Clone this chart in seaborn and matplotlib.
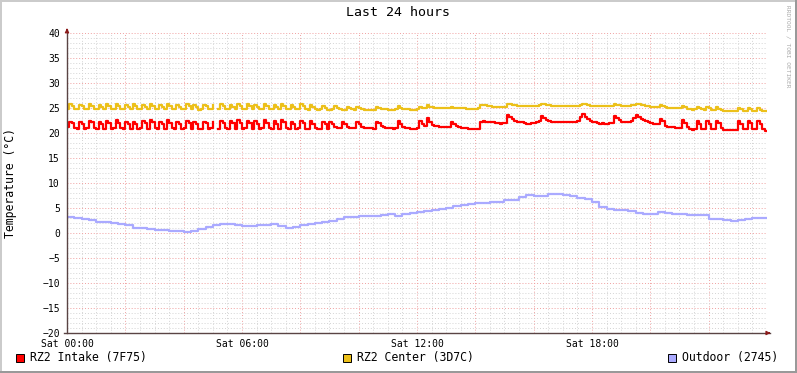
import numpy as np
import pandas as pd
import matplotlib
matplotlib.use("Agg")
import matplotlib.pyplot as plt
from matplotlib.patches import Rectangle
import seaborn as sns

# 5-minute samples, Sat 00:00 .. Sun 00:00 (289 values)
intake = [
    21.2, 22.3, 22.0, 21.0, 20.9, 22.2, 21.9, 20.9, 21.0, 22.4, 22.2, 21.0,
    20.8, 22.3, 21.9, 20.9, 22.5, 22.0, 20.9, 21.0, 22.6, 22.1, 21.0, 20.8,
    22.2, 21.8, 20.9, 22.3, 21.9, 20.8, 21.0, 22.4, 22.0, 20.9, 22.6, 22.2,
    21.0, 20.8, 22.3, 21.9, 20.9, 22.7, 22.1, 21.0, 20.9, 22.3, 21.8, 20.8,
    21.0, 22.4, 22.0, 20.9, 22.3, 21.9, 20.8, 20.9, 22.3, 22.0, 20.9, 21.0,
    22.2, np.nan, 20.8, 22.5, 22.1, 21.0, 20.9, 22.4, 22.0, 20.9, 22.6, 22.1,
    20.9, 21.0, 22.5, 22.0, 20.9, 22.4, 21.9, 20.8, 21.0, 22.6, 22.1, 21.0,
    20.8, 22.4, 21.9, 20.9, 22.7, 22.2, 21.0, 20.9, 22.3, 21.9, 20.8, 21.0,
    22.5, 22.0, 20.9, 20.8, 22.4, 21.9, 21.0, 20.8, 20.9, 22.3, 21.8, 20.8,
    22.3, 21.9, 21.2, 21.0, 21.0, 22.3, 21.9, 21.2, 21.0, 21.0, 21.0, 22.2,
    21.8, 21.3, 21.1, 21.0, 21.0, 21.0, 20.9, 22.3, 22.1, 21.5, 21.2, 21.1,
    21.0, 21.0, 20.9, 21.0, 22.5, 21.8, 21.3, 21.1, 21.0, 20.9, 20.9, 20.8,
    21.0, 22.5, 21.9, 21.4, 23.0, 22.3, 21.7, 21.5, 21.4, 21.3, 21.3, 21.2,
    21.2, 21.3, 22.3, 21.9, 21.5, 21.2, 21.1, 21.0, 21.0, 20.9, 20.8, 20.8,
    20.8, 20.9, 22.3, 22.4, 22.2, 22.2, 22.3, 22.2, 22.1, 22.0, 21.9, 22.0,
    22.0, 23.7, 23.3, 22.8, 22.5, 22.3, 22.3, 22.2, 22.1, 21.9, 21.9, 22.0,
    22.1, 22.2, 22.5, 23.4, 23.0, 22.6, 22.4, 22.3, 22.3, 22.3, 22.2, 22.3,
    22.3, 22.2, 22.3, 22.2, 22.3, 22.2, 22.4, 23.2, 23.9, 23.3, 22.9, 22.5,
    22.3, 22.2, 22.0, 21.9, 22.0, 21.9, 21.9, 22.0, 22.1, 23.5, 23.0, 22.6,
    22.3, 22.2, 22.3, 22.2, 22.4, 23.0, 23.7, 23.3, 22.9, 22.6, 22.4, 22.2,
    22.0, 21.9, 21.9, 21.9, 22.9, 22.4, 21.4, 21.3, 21.2, 21.2, 21.1, 21.1,
    21.1, 22.6, 22.1, 21.2, 20.8, 20.7, 20.9, 22.4, 21.8, 20.9, 20.8, 22.4,
    21.9, 20.9, 20.8, 22.5, 22.0, 21.0, 20.7, 20.6, 20.6, 20.6, 20.7, 20.6,
    22.4, 21.8, 20.9, 20.8, 22.5, 22.0, 20.9, 20.8, 22.4, 21.8, 20.8, 20.5,
    20.5,
]

center = [
    24.9, 25.8, 25.5, 24.9, 24.8, 25.7, 25.4, 24.8, 24.9, 25.8, 25.5, 24.9,
    24.8, 25.7, 25.3, 24.8, 25.9, 25.4, 24.9, 24.8, 25.8, 25.4, 24.9, 24.8,
    25.7, 25.3, 24.8, 25.8, 25.4, 24.8, 24.9, 25.7, 25.3, 24.8, 25.9, 25.5,
    24.9, 24.8, 25.7, 25.3, 24.8, 25.9, 25.4, 24.9, 24.8, 25.7, 25.3, 24.8,
    24.9, 25.8, 25.4, 24.8, 25.7, 25.3, 24.7, 24.8, 25.7, 25.4, 24.8, 24.9,
    25.6, np.nan, 24.8, 25.8, 25.4, 24.9, 24.8, 25.7, 25.3, 24.8, 25.9, 25.4,
    24.9, 24.8, 25.8, 25.4, 24.8, 25.7, 25.3, 24.8, 24.9, 25.8, 25.4, 24.9,
    24.8, 25.7, 25.3, 24.8, 25.9, 25.5, 24.9, 24.8, 25.7, 25.3, 24.8, 24.9,
    25.8, 25.4, 24.8, 24.7, 25.6, 25.2, 24.8, 24.7, 24.8, 25.5, 25.1, 24.7,
    24.7, 24.8, 25.4, 25.1, 24.8, 24.7, 24.7, 25.3, 25.0, 24.8, 24.7, 25.3,
    25.0, 24.8, 24.7, 24.7, 24.7, 24.7, 24.7, 25.3, 25.1, 24.9, 24.8, 24.8,
    24.7, 24.7, 24.7, 24.8, 25.4, 25.1, 24.9, 24.8, 24.8, 24.7, 24.7, 24.7,
    24.8, 25.3, 25.1, 25.0, 25.6, 25.3, 25.2, 25.1, 25.1, 25.1, 25.0, 25.0,
    25.0, 25.0, 25.3, 25.1, 25.0, 25.0, 25.0, 25.0, 24.9, 24.9, 24.9, 24.9,
    24.9, 25.0, 25.6, 25.7, 25.6, 25.5, 25.4, 25.3, 25.3, 25.3, 25.3, 25.3,
    25.3, 25.8, 25.8, 25.7, 25.6, 25.5, 25.5, 25.5, 25.5, 25.5, 25.4, 25.5,
    25.5, 25.5, 25.6, 25.9, 25.8, 25.7, 25.6, 25.5, 25.5, 25.5, 25.5, 25.5,
    25.5, 25.5, 25.5, 25.5, 25.5, 25.5, 25.5, 25.7, 25.9, 25.8, 25.6, 25.5,
    25.5, 25.4, 25.4, 25.4, 25.4, 25.4, 25.4, 25.4, 25.5, 25.8, 25.7, 25.6,
    25.5, 25.5, 25.5, 25.5, 25.6, 25.7, 25.9, 25.8, 25.7, 25.6, 25.5, 25.4,
    25.3, 25.3, 25.3, 25.3, 25.7, 25.5, 25.2, 25.1, 25.1, 25.1, 25.0, 25.0,
    25.0, 25.5, 25.2, 24.9, 24.8, 24.7, 24.8, 25.3, 25.0, 24.8, 24.7, 25.2,
    25.0, 24.7, 24.6, 25.2, 24.9, 24.6, 24.5, 24.5, 24.4, 24.4, 24.5, 24.5,
    25.1, 24.8, 24.5, 24.5, 25.1, 24.8, 24.5, 24.4, 25.0, 24.7, 24.5, 24.4,
    24.4,
]

# 15-minute samples for the outdoor sensor (97 values)
outdoor = [
    3.3, 3.1, 2.9, 2.6, 2.3, 2.2, 2.0, 1.8, 1.7, 1.1, 1.0, 0.8,
    0.6, 0.6, 0.5, 0.4, 0.3, 0.5, 0.9, 1.3, 1.6, 1.8, 1.8, 1.6,
    1.4, 1.5, 1.6, 1.7, 1.8, 1.4, 1.0, 1.3, 1.7, 1.8, 2.0, 2.2,
    2.4, 2.8, 3.3, 3.3, 3.4, 3.5, 3.5, 3.7, 3.9, 3.5, 3.8, 4.1,
    4.3, 4.4, 4.6, 4.8, 5.1, 5.4, 5.7, 5.9, 6.0, 6.1, 6.2, 6.3,
    6.6, 6.7, 7.2, 7.6, 7.5, 7.4, 7.9, 7.8, 7.7, 7.4, 7.1, 6.8,
    6.2, 5.3, 4.9, 4.7, 4.6, 4.4, 4.1, 3.8, 3.9, 4.3, 4.1, 3.9,
    3.8, 3.7, 3.7, 3.6, 2.9, 2.8, 2.6, 2.4, 2.6, 2.8, 3.1, 3.1,
    3.1,
]

series_names = ["RZ2 Intake (7F75)", "RZ2 Center (3D7C)", "Outdoor (2745)"]
series_colors = ["#ff0000", "#ecc01a", "#aaaaff"]
hour_ticks = [0, 6, 12, 18]
hour_labels = ["Sat 00:00", "Sat 06:00", "Sat 12:00", "Sat 18:00"]

hours_5min = np.arange(len(intake)) * 5 / 60
hours_15min = np.arange(len(outdoor)) * 15 / 60


def to_frame(hours, temps):
    df = pd.DataFrame({"hour": hours, "temp": temps})
    df["seg"] = df["temp"].isna().cumsum()
    return df.dropna()


plt.rcParams["font.family"] = ["DejaVu Sans Mono"]

W, H = 797, 373
fig = plt.figure(figsize=(W / 100, H / 100), dpi=100, facecolor="white")
ax = fig.add_axes([67 / W, 40 / H, 700 / W, 300 / H])
ax.set_facecolor("white")

for hours, temps, color in zip(
    [hours_5min, hours_5min, hours_15min], [intake, center, outdoor], series_colors
):
    sns.lineplot(
        data=to_frame(hours, temps), x="hour", y="temp", units="seg",
        estimator=None, drawstyle="steps-post", color=color, lw=1.6,
        legend=False, ax=ax,
    )

ax.set_xlim(0, 24)
ax.set_ylim(-20, 40)

major_x = np.arange(0, 25, 2)
ax.set_xticks(major_x)
ax.set_xticklabels([hour_labels[hour_ticks.index(h)] if h in hour_ticks else "" for h in major_x])
ax.set_xticks(np.arange(0, 24.01, 0.5), minor=True)
ax.set_yticks(np.arange(-20, 41, 5))
ax.set_yticks(np.arange(-20, 41, 1), minor=True)

ax.grid(which="minor", color="#d4d4d4", lw=0.7, linestyle=(0, (1, 2)))
ax.grid(which="major", color="#f0a0a0", lw=0.7, linestyle=(0, (1, 2)))
ax.set_axisbelow(True)

ax.tick_params(which="both", length=0, labelsize=7, colors="black")
ax.tick_params(axis="x", pad=4)
ax.tick_params(axis="y", pad=5)
ax.set_xlabel("")
ax.set_ylabel("")

for s in ax.spines.values():
    s.set_visible(False)

axis_col = "#5a4444"
arrow_col = "#8b1a1a"
ax.plot([0, 0], [0, 1.01], transform=ax.transAxes, color=axis_col, lw=1, clip_on=False)
ax.plot([-0.005, 1.005], [0, 0], transform=ax.transAxes, color=axis_col, lw=1, clip_on=False)
ax.annotate("", xy=(0, 1.025), xytext=(0, 1.0), xycoords="axes fraction",
            arrowprops=dict(arrowstyle="-|>", color=arrow_col, lw=0.8, mutation_scale=6),
            annotation_clip=False)
ax.annotate("", xy=(1.009, 0), xytext=(0.999, 0), xycoords="axes fraction",
            arrowprops=dict(arrowstyle="-|>", color=arrow_col, lw=0.8, mutation_scale=6),
            annotation_clip=False)

fig.text(398 / W, 1 - 13 / H, "Last 24 hours", ha="center", va="center", fontsize=9.5)
fig.text(11 / W, 1 - 183 / H, "Temperature (°C)", rotation=90, ha="center", va="center", fontsize=8.3)
fig.text(788 / W, 1 - 5 / H, "RRDTOOL / TOBI OETIKER", rotation=270, ha="center", va="top",
         fontsize=4.5, color="#aaaaaa")

legend_x = [16, 343, 668]
for x0, name, color in zip(legend_x, series_names, series_colors):
    fig.patches.append(Rectangle((x0 / W, (373 - 362) / H), 8 / W, 8 / H, transform=fig.transFigure,
                                 facecolor=color, edgecolor="black", lw=0.7))
    fig.text((x0 + 14) / W, 1 - 358 / H, name, ha="left", va="center", fontsize=8.3)

# frame shading
fig.patches.append(Rectangle((0, 1 - 2 / H), 1, 2 / H, transform=fig.transFigure, color="#cbcbcb", lw=0))
fig.patches.append(Rectangle((0, 0), 2 / W, 1, transform=fig.transFigure, color="#cbcbcb", lw=0))
fig.patches.append(Rectangle((0, 0), 1, 2 / H, transform=fig.transFigure, color="#999999", lw=0))
fig.patches.append(Rectangle((1 - 2 / W, 0), 2 / W, 1, transform=fig.transFigure, color="#999999", lw=0))

fig.savefig("out.png", dpi=100, facecolor="white")
